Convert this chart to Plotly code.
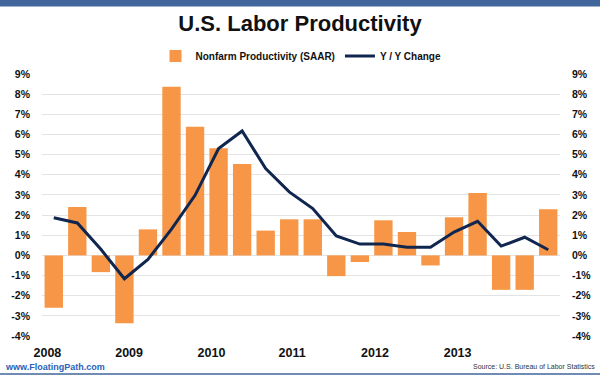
import plotly.graph_objects as go

# ---- data ----
quarters = ["2008Q1","2008Q2","2008Q3","2008Q4","2009Q1","2009Q2","2009Q3","2009Q4",
            "2010Q1","2010Q2","2010Q3","2010Q4","2011Q1","2011Q2","2011Q3","2011Q4",
            "2012Q1","2012Q2","2012Q3","2012Q4","2013Q1","2013Q2"]
productivity = [-2.6, 2.4, -0.83, -3.37, 1.29, 8.37, 6.38, 5.31,
                4.54, 1.23, 1.79, 1.79, -1.03, -0.33, 1.74, 1.16,
                -0.5, 1.89, 3.1, -1.71, -1.71, 2.29]
yoy_change = [1.87, 1.61, 0.3, -1.16, -0.2, 1.3, 2.98, 5.3,
              6.17, 4.31, 3.15, 2.32, 0.96, 0.56, 0.56, 0.4,
              0.4, 1.16, 1.69, 0.46, 0.9, 0.28]
year_labels = ["2008", "2009", "2010", "2011", "2012", "2013"]
year_tick_pos = [-0.27, 3.2, 6.7, 10.12, 13.64, 17.15]
y_tick_vals = list(range(-4, 10))
y_tick_text = [f"{v}%" for v in y_tick_vals]

W, H = 600, 375
L, R, T, B = 42, 40, 74, 39
ph = H - T - B
pw = W - L - R

def py(px):  # pixel y from top -> paper y
    return 1 - (px - T) / ph

def pxx(px):  # pixel x -> paper x
    return (px - L) / pw

FONT = "Liberation Sans, Arial, sans-serif"
ORANGE = "#f79646"
NAVY = "#10264f"

x_idx = list(range(len(quarters)))

fig = go.Figure()
fig.add_trace(go.Bar(x=x_idx, y=productivity, name="Nonfarm Productivity (SAAR)",
                     marker=dict(color=ORANGE, line=dict(width=0)), hovertext=quarters))
fig.add_trace(go.Scatter(x=x_idx, y=yoy_change, name="Y / Y Change", mode="lines",
                         line=dict(color=NAVY, width=3), yaxis="y2", hovertext=quarters))

axis_common = dict(range=[-4, 9], tickvals=y_tick_vals, ticktext=y_tick_text,
                   tickfont=dict(family=FONT, size=10.5, color="#111", weight="bold"),
                   showline=False, zeroline=False, fixedrange=True, ticklabelstandoff=11)

fig.update_layout(
    width=W, height=H,
    margin=dict(l=L, r=R, t=T, b=B, autoexpand=False),
    paper_bgcolor="white", plot_bgcolor="white",
    bargap=0.22,
    showlegend=True,
    legend=dict(orientation="h", x=0.5, xanchor="center", y=py(56), yanchor="middle",
                font=dict(family=FONT, size=10, color="#111", weight="bold"), itemwidth=30,
                traceorder="normal", bgcolor="rgba(0,0,0,0)"),
    xaxis=dict(range=[-0.5, 21.5], tickvals=year_tick_pos, ticktext=year_labels,
               tickfont=dict(family=FONT, size=12.5, color="#111", weight="bold"), showgrid=False,
               zeroline=False, showline=False, ticks="", ticklen=0, ticklabelstandoff=7),
    yaxis=dict(side="left", showgrid=True, gridcolor="#e3e3e3", gridwidth=1,
               **axis_common),
    yaxis2=dict(side="right", overlaying="y", showgrid=False, **axis_common),
    title=dict(text="<b>U.S. Labor Productivity</b>", x=0.5, xanchor="center",
               y=1 - 23 / H, yanchor="middle",
               font=dict(family=FONT, size=22, color="#111")),
    shapes=[
        dict(type="rect", xref="paper", yref="paper", x0=pxx(0), x1=pxx(W),
             y0=py(0), y1=py(6.5), fillcolor="#41669b", line=dict(width=0), layer="above"),
        dict(type="line", xref="paper", yref="paper", x0=pxx(0), x1=pxx(W),
             y0=py(374), y1=py(374), line=dict(color="#41669b", width=1.5)),
    ],
    annotations=[
        dict(text="<b>www.FloatingPath.com</b>", xref="paper", yref="paper",
             x=pxx(3), y=py(366.5), xanchor="left", yanchor="middle", showarrow=False,
             font=dict(family=FONT, size=9, color="#2a62b8")),
        dict(text="Source: U.S. Bureau of Labor Statistics", xref="paper", yref="paper",
             x=pxx(597), y=py(366.5), xanchor="right", yanchor="middle", showarrow=False,
             font=dict(family=FONT, size=7, color="#333")),
    ],
)

fig.write_html("out.html", config={"displayModeBar": False},
               post_script="document.body.style.margin='0';")
